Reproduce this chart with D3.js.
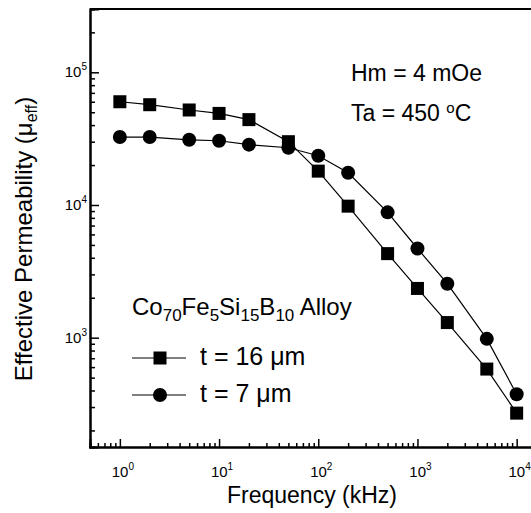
<!DOCTYPE html>
<html>
<head>
<meta charset="utf-8">
<script src="https://cdn.jsdelivr.net/npm/d3@7"></script>
<style>
  body { margin: 0; background: #fff; }
  text { font-family: "Liberation Sans", Arial, sans-serif; fill: #000; }
</style>
</head>
<body>
<div id="chart"></div>
<script>
// frequency in kHz
var freq = [1, 2, 5, 10, 20, 50, 100, 200, 500, 1000, 2000, 5000, 10000];
// effective permeability, t = 16 um (squares)
var mu16 = [60000, 57000, 52000, 49000, 44000, 30000, 18000, 9800, 4300, 2350, 1300, 580, 270];
// effective permeability, t = 7 um (circles)
var mu7 = [32500, 32500, 31000, 30500, 28500, 27000, 23500, 17500, 8800, 4700, 2550, 980, 375];
var xTickExp = [0, 1, 2, 3, 4];
var yTickExp = [3, 4, 5];

var W = 531, H = 513;
var plotLeft = 90, plotTop = 9, plotBottom = 447;

var svg = d3.select("#chart").append("svg")
    .attr("width", W)
    .attr("height", H);

var x = d3.scaleLog().domain([0.5, 20000]).range([plotLeft, plotLeft + Math.log10(40000) * 99.2]);
var y = d3.scaleLog().domain([150, 300000]).range([plotBottom, plotTop]);

function minors(dom) {
  var out = [];
  for (var e = -1; e <= 5; e++) {
    for (var m = 1; m <= 9; m++) {
      var v = m * Math.pow(10, e);
      if (v >= dom[0] && v <= dom[1]) out.push(v);
    }
  }
  return out;
}
var xMinor = minors(x.domain()).filter(function(v) { return xTickExp.indexOf(Math.round(Math.log10(v) * 1000) / 1000) < 0; });
var yMinor = minors(y.domain()).filter(function(v) { return yTickExp.indexOf(Math.round(Math.log10(v) * 1000) / 1000) < 0; });

// axes: ticks point inward
var gx = svg.append("g").attr("transform", "translate(0," + plotBottom + ")");
gx.call(d3.axisBottom(x).tickValues(xMinor).tickSize(-4).tickFormat(""));
gx.append("g").call(d3.axisBottom(x).tickValues(xTickExp.map(function(e) { return Math.pow(10, e); }))
    .tickSize(-8).tickFormat(""));

var gy = svg.append("g").attr("transform", "translate(" + plotLeft + ",0)");
gy.call(d3.axisLeft(y).tickValues(yMinor).tickSize(-5).tickFormat(""));
gy.append("g").call(d3.axisLeft(y).tickValues(yTickExp.map(function(e) { return Math.pow(10, e); }))
    .tickSize(-9).tickFormat(""));

svg.selectAll(".domain").attr("stroke", "#000").attr("stroke-width", 2);
svg.selectAll(".tick line").attr("stroke", "#000").attr("stroke-width", 1.5);

// top border
svg.append("line")
    .attr("x1", plotLeft).attr("x2", W)
    .attr("y1", plotTop).attr("y2", plotTop)
    .attr("stroke", "#000").attr("stroke-width", 2);

// tick labels with superscripts
var xl = svg.selectAll(".xlab").data(xTickExp).enter().append("text")
    .attr("class", "xlab")
    .attr("x", function(d) { return x(Math.pow(10, d)) + 3; })
    .attr("y", 477)
    .attr("text-anchor", "middle")
    .style("font-size", "15px");
xl.append("tspan").text("10");
xl.append("tspan").attr("dy", -7).style("font-size", "10px").text(function(d) { return d; });

var yl = svg.selectAll(".ylab").data(yTickExp).enter().append("text")
    .attr("class", "ylab")
    .attr("x", 87)
    .attr("y", function(d) { return y(Math.pow(10, d)) + 5; })
    .attr("text-anchor", "end")
    .style("font-size", "15px");
yl.append("tspan").text("10");
yl.append("tspan").attr("dy", -7).style("font-size", "10px").text(function(d) { return d; });

// axis titles
svg.append("text")
    .attr("x", 312).attr("y", 503)
    .attr("text-anchor", "middle")
    .style("font-size", "23px")
    .text("Frequency (kHz)");

var yt = svg.append("text")
    .attr("transform", "translate(32,239) rotate(-90)")
    .attr("text-anchor", "middle")
    .style("font-size", "24px");
yt.append("tspan").text("Effective Permeability (\u03bc");
yt.append("tspan").attr("dy", 5).style("font-size", "16px").text("eff");
yt.append("tspan").attr("dy", -5).text(")");

// series
var line = d3.line()
    .x(function(d) { return x(d[0]); })
    .y(function(d) { return y(d[1]); });

var s16 = d3.zip(freq, mu16);
var s7 = d3.zip(freq, mu7);

svg.append("path").datum(s7).attr("d", line)
    .attr("fill", "none").attr("stroke", "#000").attr("stroke-width", 1.2);
svg.append("path").datum(s16).attr("d", line)
    .attr("fill", "none").attr("stroke", "#000").attr("stroke-width", 1.2);

var sq = 13, rad = 7;
svg.selectAll(".sq").data(s16).enter().append("rect")
    .attr("x", function(d) { return x(d[0]) - sq / 2; })
    .attr("y", function(d) { return y(d[1]) - sq / 2; })
    .attr("width", sq).attr("height", sq)
    .attr("fill", "#000");

svg.selectAll(".ci").data(s7).enter().append("circle")
    .attr("cx", function(d) { return x(d[0]); })
    .attr("cy", function(d) { return y(d[1]); })
    .attr("r", rad)
    .attr("fill", "#000");

// annotations
svg.append("text").attr("x", 351).attr("y", 81).style("font-size", "23px").text("Hm = 4 mOe");
var ta = svg.append("text").attr("x", 351).attr("y", 121).style("font-size", "23px");
ta.append("tspan").text("Ta = 450 ");
ta.append("tspan").attr("dy", -8).style("font-size", "15px").text("o");
ta.append("tspan").attr("dy", 8).text("C");

// legend
var lg = svg.append("text").attr("x", 132).attr("y", 315).style("font-size", "24px");
lg.append("tspan").text("Co");
lg.append("tspan").attr("dy", 6).style("font-size", "17px").text("70");
lg.append("tspan").attr("dy", -6).text("Fe");
lg.append("tspan").attr("dy", 6).style("font-size", "17px").text("5");
lg.append("tspan").attr("dy", -6).text("Si");
lg.append("tspan").attr("dy", 6).style("font-size", "17px").text("15");
lg.append("tspan").attr("dy", -6).text("B");
lg.append("tspan").attr("dy", 6).style("font-size", "17px").text("10");
lg.append("tspan").attr("dy", -6).text(" Alloy");

var legendRows = [
  {label: "t = 16 \u03bcm", marker: "square", y: 358},
  {label: "t = 7 \u03bcm", marker: "circle", y: 395}
];
legendRows.forEach(function(r) {
  svg.append("line")
      .attr("x1", 132).attr("x2", 186)
      .attr("y1", r.y).attr("y2", r.y)
      .attr("stroke", "#000").attr("stroke-width", 1.2);
  if (r.marker === "square") {
    svg.append("rect").attr("x", 160 - sq / 2).attr("y", r.y - sq / 2)
        .attr("width", sq).attr("height", sq).attr("fill", "#000");
  } else {
    svg.append("circle").attr("cx", 160).attr("cy", r.y).attr("r", rad).attr("fill", "#000");
  }
  svg.append("text").attr("x", 200).attr("y", r.y + 7)
      .style("font-size", "25px").text(r.label);
});
</script>
</body>
</html>
